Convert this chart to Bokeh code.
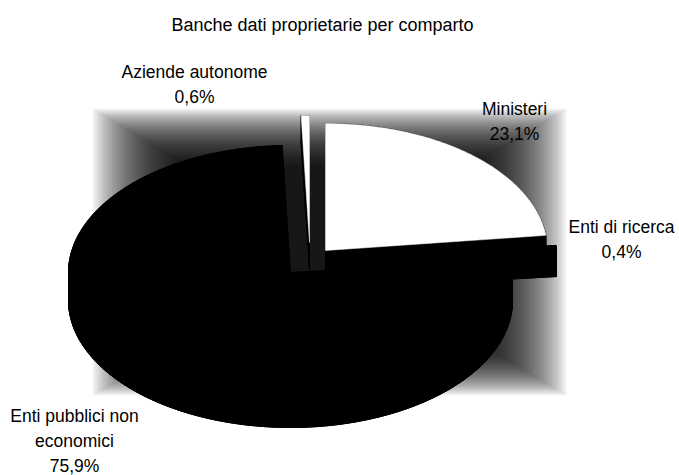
import numpy as np
from bokeh.plotting import figure
from bokeh.models import Range1d
from bokeh.embed import file_html
from bokeh.resources import INLINE
from bokeh.core.properties import value

# ---------------- data ----------------
title_text = "Banche dati proprietarie per comparto"
categories = ["Ministeri", "Enti di ricerca", "Enti pubblici non\neconomici", "Aziende autonome"]
shares = [23.1, 0.4, 75.9, 0.6]
share_labels = ["23,1%", "0,4%", "75,9%", "0,6%"]

# ---------------- style / layout ----------------
top_colors = ["#ffffff", "#000000", "#000000", "#ffffff"]
wall_color = "#000000"
CX, CY = 325, 250          # pie centre (page pixels)
RX, RY = 222, 127          # ellipse radii of the tilted pie
DEPTH = 28                 # thickness of the 3-D pie
explode = [(0, 0), (10, 10), (-35, 22), (-16, -8)]
label_pos = [(514, 108), (621, 226), (74, 415), (194, 71)]
LINE_H = 25
FONT = "Liberation Sans"
BG = (92, 108, 566, 395)   # plot-area rectangle

W, H = 679, 475
p = figure(width=W, height=H, x_range=Range1d(0, W), y_range=Range1d(H, 0),
           output_backend="svg", toolbar_location=None, min_border=0)
p.axis.visible = False
p.grid.visible = False
p.outline_line_color = None
p.background_fill_color = "white"

# plot-area background: gradient darker towards the centre
bx0, by0, bx1, by1 = BG
bcx, bcy = (bx0 + bx1) / 2, (by0 + by1) / 2
hw, hh = (bx1 - bx0) / 2, (by1 - by0) / 2
scales = np.linspace(1.0, 0.6, 40)
p.quad(left=list(bcx - scales * hw), right=list(bcx + scales * hw),
       top=list(bcy - scales * hh), bottom=list(bcy + scales * hh),
       fill_color="black", fill_alpha=0.05, line_color=None)

# pie geometry from the shares
total = sum(shares)
edges = np.concatenate([[0.0], np.cumsum(shares) / total * 360.0])

def face(i):
    a0, a1 = edges[i], edges[i + 1]
    n = max(3, int(np.ceil((a1 - a0) / 1.0)) + 1)
    th = np.radians(np.linspace(a0, a1, n))
    ox, oy = explode[i]
    cx, cy = CX + ox, CY + oy
    xs = np.concatenate([[cx], cx + RX * np.sin(th)])
    ys = np.concatenate([[cy], cy - RY * np.cos(th)])
    return xs, ys

wall_xs, wall_ys = [], []
top_xs, top_ys = [], []
for i in range(len(shares)):
    xs, ys = face(i)
    top_xs.append(list(xs))
    top_ys.append(list(ys))
    wall_xs.append(list(xs))
    wall_ys.append(list(ys + DEPTH))
    m = len(xs)
    for k in range(m):
        j = (k + 1) % m
        wall_xs.append([xs[k], xs[j], xs[j], xs[k]])
        wall_ys.append([ys[k], ys[j], ys[j] + DEPTH, ys[k] + DEPTH])

p.patches(wall_xs, wall_ys, fill_color=wall_color, line_color=wall_color, line_width=1)
p.patches(top_xs, top_ys, fill_color=top_colors, line_color=top_colors, line_width=0.5)

# labels
tx, ty, tt = [], [], []
for i, name in enumerate(categories):
    lines = name.split("\n") + [share_labels[i]]
    lx, ly = label_pos[i]
    for k, ln in enumerate(lines):
        tx.append(lx)
        ty.append(ly + k * LINE_H)
        tt.append(ln)
p.text(x=tx, y=ty, text=tt, text_align="center", text_baseline="middle",
       text_font=value(FONT), text_font_size="17.5px", text_color="black")

p.text(x=[322], y=[24], text=[title_text], text_align="center", text_baseline="middle",
       text_font=value(FONT), text_font_size="18px", text_color="black")

open("out.html", "w").write(file_html(p, INLINE))
